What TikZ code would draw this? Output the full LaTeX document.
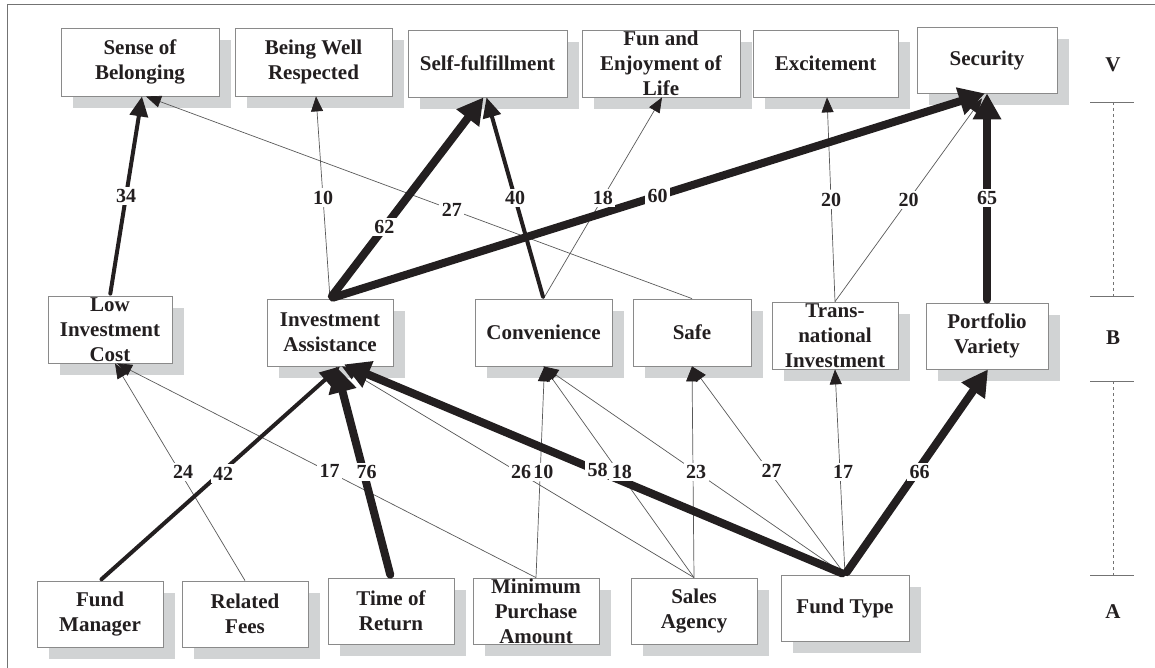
\documentclass[tikz,border=0pt]{standalone}
\usepackage{fontspec}
\setmainfont{Liberation Serif}
\usetikzlibrary{arrows.meta,shadows}
\definecolor{ink}{HTML}{231F20}
\definecolor{rim}{HTML}{8A8A8A}
\definecolor{shade}{HTML}{D1D3D4}
\begin{document}
\begin{tikzpicture}[x=1pt,y=-1pt,
  conceptbox/.style={draw=rim, line width=0.8pt, fill=white, inner sep=0pt,
    general shadow={fill=shade, shadow xshift=12pt, shadow yshift=-12pt}},
  boxtext/.style={align=center, text=ink, inner sep=0pt,
    font=\fontsize{21}{25}\selectfont\bfseries},
  numlabel/.style={fill=white, text=ink, inner sep=2.5pt,
    font=\fontsize{20}{24}\selectfont\bfseries},
  thinedge/.style={draw=black!65, line width=0.7pt,
    -{Triangle[length=15pt,width=12pt,color=ink]}},
  midedge/.style={draw=ink, line width=4pt, line cap=round, shorten <=2pt,
    -{Triangle[length=20pt,width=18pt]}},
  thickedge/.style={draw=ink, line width=8pt, line cap=round, shorten <=3pt,
    -{Triangle[length=26pt,width=27pt]}},
  scaleline/.style={draw=black!55, line width=0.8pt},
  scaletext/.style={text=ink, font=\fontsize{21}{25}\selectfont\bfseries}
]
\useasboundingbox (0,0) rectangle (1155,668);
% frame
\draw[draw=black!55, line width=0.8pt] (7,668) -- (7,4) -- (1155,4);

% values (V)
\node[conceptbox, minimum width=158pt, minimum height=68pt,
  label={[boxtext]center:{Sense of\\Belonging}}] (sob) at (140,62) {};
\node[conceptbox, minimum width=157pt, minimum height=68pt,
  label={[boxtext]center:{Being Well\\Respected}}] (bwr) at (313.5,62) {};
\node[conceptbox, minimum width=159pt, minimum height=67pt,
  label={[boxtext]center:{Self-fulfillment}}] (sf) at (487.5,63.5) {};
\node[conceptbox, minimum width=158pt, minimum height=67pt,
  label={[boxtext]center:{Fun and\\Enjoyment of\\Life}}] (fun) at (661,63.5) {};
\node[conceptbox, minimum width=145pt, minimum height=67pt,
  label={[boxtext]center:{Excitement}}] (exc) at (825.5,63.5) {};
\node[conceptbox, minimum width=140pt, minimum height=66pt,
  label={[boxtext]center:{Security}}] (sec) at (987,60) {};

% benefits (B)
\node[conceptbox, minimum width=124pt, minimum height=67pt,
  label={[boxtext]center:{Low\\Investment\\Cost}}] (lic) at (110,329.5) {};
\node[conceptbox, minimum width=126pt, minimum height=67pt,
  label={[boxtext]center:{Investment\\Assistance}}] (ia) at (330,332.5) {};
\node[conceptbox, minimum width=137pt, minimum height=67pt,
  label={[boxtext]center:{Convenience}}] (conv) at (543.5,332.5) {};
\node[conceptbox, minimum width=118pt, minimum height=67pt,
  label={[boxtext]center:{Safe}}] (safe) at (692,332.5) {};
\node[conceptbox, minimum width=126pt, minimum height=67pt,
  label={[boxtext]center:{Trans-\\national\\Investment}}] (tn) at (835,335.5) {};
\node[conceptbox, minimum width=122pt, minimum height=66pt,
  label={[boxtext]center:{Portfolio\\Variety}}] (pv) at (987,336) {};

% attributes (A)
\node[conceptbox, minimum width=126pt, minimum height=66pt,
  label={[boxtext]center:{Fund\\Manager}}] (fm) at (100,614) {};
\node[conceptbox, minimum width=126pt, minimum height=66pt,
  label={[boxtext]center:{Related\\Fees}}] (rf) at (245,614) {};
\node[conceptbox, minimum width=126pt, minimum height=66pt,
  label={[boxtext]center:{Time of\\Return}}] (tr) at (391,611) {};
\node[conceptbox, minimum width=126pt, minimum height=66pt,
  label={[boxtext]center:{Minimum\\Purchase\\Amount}}] (mpa) at (536,611) {};
\node[conceptbox, minimum width=126pt, minimum height=66pt,
  label={[boxtext]center:{Sales\\Agency}}] (sa) at (694,611) {};
\node[conceptbox, minimum width=128pt, minimum height=66pt,
  label={[boxtext]center:{Fund Type}}] (ft) at (845,608) {};

% arrow entry points on the boxes
\coordinate (sob-a) at ([xshift=2pt]sob.south);
\coordinate (sob-b) at ([xshift=6pt]sob.south);
\coordinate (bwr-in) at ([xshift=2.5pt]bwr.south);
\coordinate (sf-a) at ([xshift=-4pt]sf.south);
\coordinate (sf-b) at ([xshift=-1pt]sf.south);
\coordinate (fun-in) at ([xshift=1pt]fun.south);
\coordinate (exc-in) at ([xshift=1.5pt]exc.south);
\coordinate (sec-a) at ([xshift=-2pt]sec.south);
\coordinate (sec-c) at ([xshift=-5pt,yshift=-5pt]sec.south);
\coordinate (lic-a) at ([xshift=5pt]lic.south);
\coordinate (lic-b) at ([xshift=7pt]lic.south);
\coordinate (ia-a) at ([xshift=10pt]ia.south);
\coordinate (ia-b) at ([xshift=6pt]ia.south);
\coordinate (ia-c) at ([xshift=14pt,yshift=2pt]ia.south);
\coordinate (ia-d) at ([xshift=12pt]ia.south);
\coordinate (conv-a) at ([xshift=1pt]conv.south);
\coordinate (pv-in) at ([xshift=1pt]pv.south);

% weak links
\foreach \s/\t in {ia.north/bwr-in, safe.north/sob-b, conv.north/fun-in,
    tn.north/exc-in, tn.north/sec-c, rf.north/lic-a, mpa.north/lic-b,
    sa.north/ia-d, mpa.north/conv-a, sa.north/conv.south, ft.north/conv.south,
    sa.north/safe.south, ft.north/safe.south, ft.north/tn.south}
  \draw[thinedge] (\s) -- (\t);
% medium links
\foreach \s/\t in {lic.north/sob-a, conv.north/sf-b, fm.north/ia-a}
  \draw[midedge] (\s) -- (\t);
% strong links
\foreach \s/\t in {ia.north/sf-a, ia.north/sec-a, pv.north/sec.south,
    tr.north/ia-b, ft.north/ia-c, ft.north/pv-in}
  \draw[thickedge] (\s) -- (\t);

% link counts, benefit -> value
\foreach \s/\t/\n/\p in {lic.north/sob-a/34/0.5, ia.north/bwr-in/10/0.5,
    safe.north/sob-b/27/0.44, ia.north/sf-a/62/0.355, conv.north/sf-b/40/0.5,
    conv.north/fun-in/18/0.5, ia.north/sec-a/60/0.5, tn.north/exc-in/20/0.5,
    tn.north/sec-c/20/0.5, pv.north/sec.south/65/0.5}
  \path (\s) -- node[numlabel, pos=\p] {\n} (\t);
% link counts, attribute -> benefit
\foreach \s/\t/\n in {fm.north/ia-a/42, rf.north/lic-a/24, mpa.north/lic-b/17,
    tr.north/ia-b/76, sa.north/ia-d/26, mpa.north/conv-a/10, ft.north/ia-c/58,
    sa.north/conv.south/18, sa.north/safe.south/23, ft.north/safe.south/27,
    ft.north/tn.south/17, ft.north/pv-in/66}
  \path (\s) -- node[numlabel, pos=0.5, xshift=3pt] {\n} (\t);

% level scale
\draw[scaleline] (1090,102) -- (1134,102);
\draw[scaleline] (1090,296) -- (1134,296);
\draw[scaleline] (1090,381) -- (1134,381);
\draw[scaleline] (1090,575) -- (1134,575);
\draw[scaleline, dashed, line width=0.6pt] (1113,102) -- (1113,296);
\draw[scaleline, dashed, line width=0.6pt] (1113,381) -- (1113,575);
\node[scaletext] (lv) at (1113,65) {V};
\node[scaletext] (lb) at (1113,338) {B};
\node[scaletext] (la) at (1113,612) {A};
\end{tikzpicture}
\end{document}
